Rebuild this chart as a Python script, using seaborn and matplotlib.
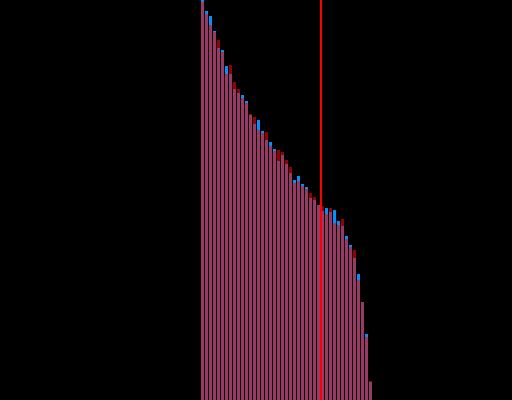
import numpy as np
import pandas as pd
import matplotlib
matplotlib.use('Agg')
import matplotlib.pyplot as plt
import seaborn as sns

# bar heights (0-100 scale), sorted by rank
rank = list(range(43))
blue_vals = [100.0, 97.25, 96.0, 92.25, 88.0, 87.5, 83.5, 81.5, 77.75, 76.75,
             76.25, 74.75, 71.25, 69.0, 70.0, 67.25, 65.0, 64.5, 62.75, 59.75,
             61.25, 59.0, 56.75, 55.0, 56.0, 54.0, 53.25, 50.5, 50.0, 48.75,
             47.25, 48.0, 47.0, 47.5, 44.75, 43.5, 41.0, 38.75, 35.5, 31.5,
             24.5, 16.5, 4.5]
red_vals = [99.5, 96.5, 93.75, 92.0, 90.0, 87.0, 81.5, 83.75, 79.5, 77.75,
            75.5, 74.25, 71.5, 70.75, 67.5, 66.75, 67.0, 63.5, 62.25, 62.5,
            62.0, 60.0, 58.25, 54.25, 54.75, 53.5, 52.75, 51.75, 50.75, 48.75,
            48.5, 46.5, 48.0, 44.25, 43.75, 45.25, 40.25, 38.25, 37.5, 30.0,
            24.5, 15.75, 4.75]
marker_pos = 29.5

df = pd.DataFrame({'rank': rank, 'blue': blue_vals, 'red': red_vals})

fig = plt.figure(figsize=(5.12, 4.0), dpi=100, facecolor='black')
ax = fig.add_axes([0, 0, 1, 1])
ax.set_facecolor('black')

sns.barplot(data=df, x='rank', y='blue', color='#0090ff', saturation=1,
            width=0.75, linewidth=0, ax=ax)
sns.barplot(data=df, x='rank', y='red', color='#ff0000', alpha=0.6,
            saturation=1, width=0.75, linewidth=0, ax=ax)
ax.axvline(marker_pos, color='#ff0000', linewidth=1.1, zorder=5,
           antialiased=False)

ax.set_xlim(-50.625, 77.375)
ax.set_ylim(0, 100)
ax.axis('off')

fig.savefig('out.png', dpi=100, facecolor='black')
